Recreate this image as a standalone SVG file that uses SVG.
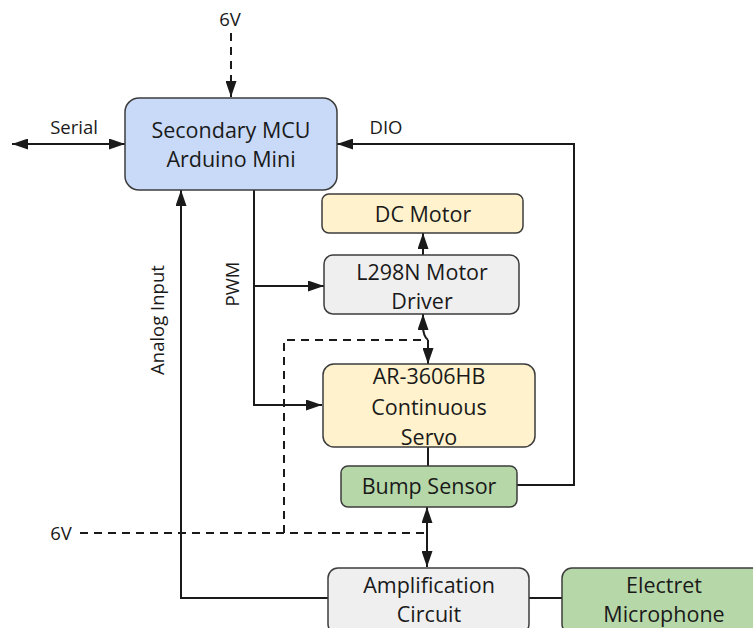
<svg xmlns="http://www.w3.org/2000/svg" width="753" height="628" viewBox="0 0 753 628">
  <style>
    .box { stroke: #3c3c3c; stroke-width: 1.5; }
    .blue { fill: #c9daf8; }
    .yellow { fill: #fff2cc; }
    .grey { fill: #efefef; }
    .green { fill: #b6d7a8; }
    .lbl { font-family: "Open Sans", "Liberation Sans", sans-serif; font-size: 21.5px; fill: #1a1a1a; text-anchor: middle; }
    .small { font-family: "Open Sans", "Liberation Sans", sans-serif; font-size: 18.5px; fill: #1a1a1a; text-anchor: middle; }
    .wire { fill: none; stroke: #1a1a1a; stroke-width: 2; }
    .dash { fill: none; stroke: #1a1a1a; stroke-width: 2; stroke-dasharray: 8 6; }
  </style>
  <defs>
    <marker id="arrow" viewBox="0 0 16 11" refX="16" refY="5.5" markerWidth="8" markerHeight="5.5" orient="auto-start-reverse" markerUnits="strokeWidth">
      <path d="M0,0 L16,5.5 L0,11 z" fill="#1a1a1a"/>
    </marker>
  </defs>

  <rect width="753" height="628" fill="#ffffff"/>

  <g id="connectors">
    <!-- supply to MCU -->
    <path class="dash" d="M231,33 V97" marker-end="url(#arrow)"/>
    <!-- serial link -->
    <path class="wire" d="M12,144 H125" marker-start="url(#arrow)" marker-end="url(#arrow)"/>
    <!-- bump sensor DIO back to MCU -->
    <path class="wire" d="M517,485 H574 V144 H337" marker-end="url(#arrow)"/>
    <!-- PWM outputs -->
    <path class="wire" d="M254,190 V405 H322" marker-end="url(#arrow)"/>
    <path class="wire" d="M254,286 H324" marker-end="url(#arrow)"/>
    <!-- driver to DC motor -->
    <path class="wire" d="M423,255 V233" marker-end="url(#arrow)"/>
    <!-- servo to bump sensor -->
    <path class="wire" d="M428,447 V466"/>
    <!-- analog input from amplifier -->
    <path class="wire" d="M328,598 H181 V190" marker-end="url(#arrow)"/>
    <!-- amplifier to microphone -->
    <path class="wire" d="M529,598 H562"/>
    <!-- 6V distribution -->
    <path class="dash" d="M80,533 H427"/>
    <path class="dash" d="M284,533 V340 H428"/>
    <path class="wire" d="M428,340 Q423,336 423,326 V314" marker-end="url(#arrow)"/>
    <path class="wire" d="M428,340 V364" marker-end="url(#arrow)"/>
    <path class="wire" d="M427,533 Q427,528 427,520 V507" marker-end="url(#arrow)"/>
    <path class="wire" d="M427,533 V567" marker-end="url(#arrow)"/>
    <!-- signal labels -->
    <text class="small" x="230" y="26">6V</text>
    <text class="small" x="74" y="134">Serial</text>
    <text class="small" x="386" y="134">DIO</text>
    <text class="small" x="61" y="540">6V</text>
    <text class="small" transform="translate(239,284) rotate(-90)">PWM</text>
    <text class="small" transform="translate(164,320) rotate(-90)">Analog Input</text>
  </g>

  <g id="mcu">
    <rect class="box blue" x="125" y="98" width="212" height="92" rx="14"/>
    <text class="lbl" x="231" y="138">Secondary MCU</text>
    <text class="lbl" x="231" y="167">Arduino Mini</text>
  </g>

  <g id="dc-motor">
    <rect class="box yellow" x="322" y="194" width="201" height="39" rx="7"/>
    <text class="lbl" x="423" y="222">DC Motor</text>
  </g>

  <g id="motor-driver">
    <rect class="box grey" x="324" y="255" width="195" height="59" rx="9"/>
    <text class="lbl" x="422" y="280">L298N Motor</text>
    <text class="lbl" x="422" y="309">Driver</text>
  </g>

  <g id="servo">
    <rect class="box yellow" x="323" y="364" width="212" height="83" rx="11"/>
    <text class="lbl" x="429" y="384">AR-3606HB</text>
    <text class="lbl" x="429" y="415">Continuous</text>
    <text class="lbl" x="429" y="445">Servo</text>
  </g>

  <g id="bump-sensor">
    <rect class="box green" x="341" y="466" width="176" height="41" rx="7"/>
    <text class="lbl" x="429" y="494">Bump Sensor</text>
  </g>

  <g id="amplifier">
    <rect class="box grey" x="328" y="568" width="201" height="66" rx="10"/>
    <text class="lbl" x="429" y="593">Amplification</text>
    <text class="lbl" x="429" y="622">Circuit</text>
  </g>

  <g id="microphone">
    <rect class="box green" x="562" y="568" width="200" height="66" rx="10"/>
    <text class="lbl" x="664" y="593">Electret</text>
    <text class="lbl" x="664" y="622">Microphone</text>
  </g>
</svg>
